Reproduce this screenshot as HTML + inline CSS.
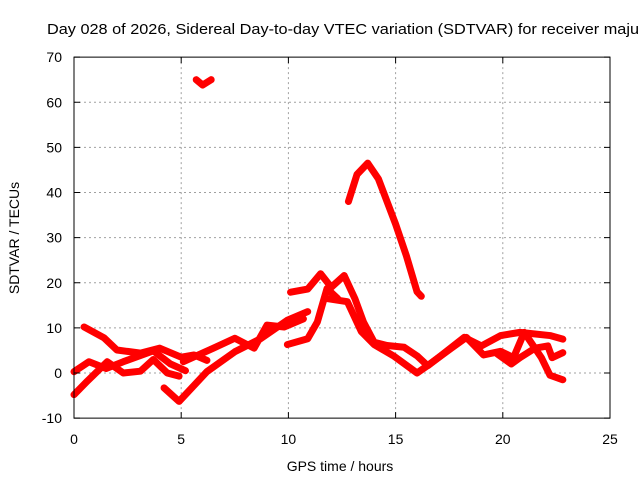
<!DOCTYPE html>
<html><head><meta charset="utf-8"><style>
body{margin:0;background:#fff;width:640px;height:480px;overflow:hidden}
svg{display:block;font-family:"Liberation Sans",sans-serif}
</style></head><body>
<svg id="chart" width="640" height="480">
<text x="47" y="34" font-size="15" textLength="592" lengthAdjust="spacingAndGlyphs">Day 028 of 2026, Sidereal Day-to-day VTEC variation (SDTVAR) for receiver maju</text>
<text x="340" y="471" font-size="14" text-anchor="middle">GPS time / hours</text>
<text transform="translate(19,238) rotate(-90)" font-size="14" text-anchor="middle">SDTVAR / TECUs</text>
<g id="grid"></g><g id="series"></g><g id="axes"></g>
</svg>
<script>
const xTicks=[0,5,10,15,20,25];
const yTicks=[-10,0,10,20,30,40,50,60,70];
const track1=[[0.47,10.2],[1.4,7.8],[2.0,5.1],[3.1,4.4],[4.0,5.5],[5.0,3.5],[5.6,4],[6.2,2.8]];
const track2=[[0,-4.8],[0.6,-1.9],[1.55,2.5],[2.3,0],[3.1,0.4],[3.7,3],[4.35,0],[4.9,-0.7]];
const track3=[[0,0.3],[0.7,2.5],[1.5,1],[2.3,2.5],[3.7,4.9],[4.5,2],[5.2,0.5]];
const trackV=[[4.2,-3.3],[4.9,-6.3],[6.2,0.3],[7.5,4.7],[8.7,7.6],[9.95,11.7],[10.9,13.6]];
const trackMid=[[5.1,2.5],[6.5,5.5],[7.5,7.7],[8.4,5.5],[9.0,10.6],[9.8,10.2],[10.7,12]];
const trackLow=[[9.95,6.3],[10.9,7.6],[11.35,11.3],[11.8,18.7],[12.3,16.5]];
const trackPeak=[[10.1,17.9],[10.9,18.6],[11.5,22],[12,19],[12.6,21.6],[13.1,16.5],[13.5,11.3],[14,6.8],[14.6,6.1],[15.4,5.7],[16,3.8],[16.5,1.6],[17.1,3.8],[18.2,7.9],[19,6],[19.9,8.3],[20.8,9],[22.2,8.3],[22.8,7.5]];
const trackPeak2=[[11.8,16.5],[12.75,15.8],[13.4,9.2],[14,6.3],[14.9,3.8],[16,0],[16.6,2],[17.6,5.5],[18.3,7.9],[19.1,4],[19.9,4.8],[20.5,3.4],[21,9],[21.8,3.4],[22.2,-0.5],[22.8,-1.5]];
const trackTail=[[19.75,4.2],[20.4,2],[20.8,3.4],[21.5,5.5],[22.1,6],[22.3,3.4],[22.8,4.5]];
const trackArc=[[12.8,38],[13.2,44],[13.7,46.5],[14.2,43],[15,33],[15.5,26],[16,18],[16.2,17]];
const trackTop=[[5.7,65],[6.0,63.8],[6.4,65]];
const X=h=>74+h*(536/25), Y=v=>373-v*(361/80);
const NS="http://www.w3.org/2000/svg";
const grid=document.getElementById('grid'),axes=document.getElementById('axes'),ser=document.getElementById('series');
function mk(t,a,p){const e=document.createElementNS(NS,t);for(const k in a)e.setAttribute(k,a[k]);p.appendChild(e);return e;}
xTicks.forEach(t=>{
 if(t>0&&t<25){const g=mk('line',{x1:X(t),x2:X(t),y1:Y(70),y2:Y(-10),stroke:'#a0a0a0','stroke-dasharray':'2,3'},grid);
 
 }
 mk('line',{x1:X(t),x2:X(t),y1:Y(-10),y2:Y(-10)-6,stroke:'#000'},axes);
 mk('line',{x1:X(t),x2:X(t),y1:Y(70),y2:Y(70)+6,stroke:'#000'},axes);
 const l=mk('text',{x:X(t),y:444,'font-size':14,'text-anchor':'middle'},axes);l.textContent=t;
 
 
});
yTicks.forEach(t=>{
 if(t>-10&&t<70){const g=mk('line',{x1:X(0),x2:X(25),y1:Y(t),y2:Y(t),stroke:'#a0a0a0','stroke-dasharray':'2,3'},grid);
 
 }
 mk('line',{x1:X(0),x2:X(0)+6,y1:Y(t),y2:Y(t),stroke:'#000'},axes);
 mk('line',{x1:X(25),x2:X(25)-6,y1:Y(t),y2:Y(t),stroke:'#000'},axes);
 const l=mk('text',{x:62,y:Y(t)+5,'font-size':14,'text-anchor':'end'},axes);l.textContent=t;
 
 
});
const frame=mk('rect',{x:X(0),y:Y(70),width:X(25)-X(0),height:Y(-10)-Y(70),fill:'none',stroke:'#000'},axes);


[track1,track2,track3,trackV,trackMid,trackLow,trackPeak,trackPeak2,trackTail,trackArc,trackTop].forEach(tr=>{
 const p=mk('polyline',{points:tr.map(d=>X(d[0])+','+Y(d[1])).join(' '),fill:'none',stroke:'#ff0000','stroke-width':7,'stroke-linejoin':'round','stroke-linecap':'round'},ser);
 
 
});
</script>
</body></html>
